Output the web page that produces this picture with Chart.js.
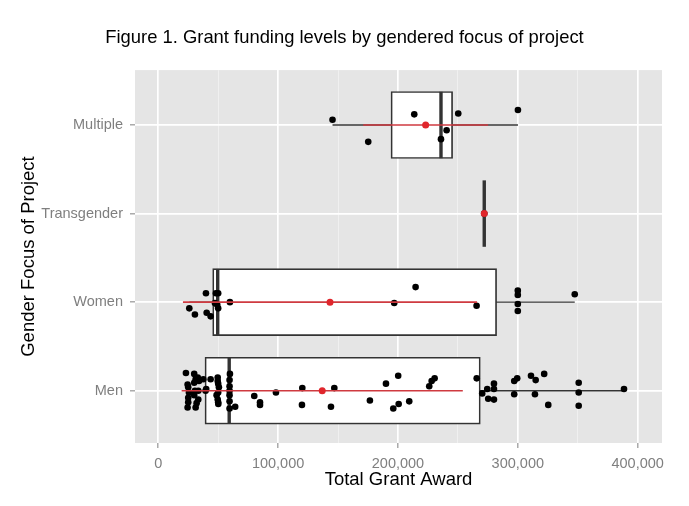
<!DOCTYPE html>
<html>
<head>
<meta charset="utf-8">
<title>Grant funding levels by gendered focus of project</title>
<script src="https://cdn.jsdelivr.net/npm/chart.js@4.4.1/dist/chart.umd.min.js"></script>
<style>
	body { margin: 0; background: #fff; overflow: hidden; }
	#wrap { width: 689px; height: 506px; }
</style>
</head>
<body>
<div id="wrap"><canvas id="myChart" width="689" height="506"></canvas></div>
<script>
// categories from the bottom of the y axis up
let categories = ["Men", "Women", "Transgender", "Multiple"];

// single grant awards (dollars) and the vertical jitter of each dot (in category units)
let menAwards = [
	23100, 30000, 24500, 31200, 34000, 37600, 25600, 30600, 33400, 25000,
	33400, 24500, 31200, 32000, 39500, 25000, 30000, 25000, 30000, 33000,
	43700, 49600, 50600, 48700, 49600, 50100, 50000, 50000, 49600, 50000,
	40000, 59800, 59500, 59500, 59500, 59500, 59500, 59500,
	64200, 80100, 84900, 84900, 98200, 120200, 119900, 144100, 146900, 176600,
	190000, 200200, 196100, 200600, 209400, 226100, 228100, 230600, 265700, 270300,
	274500, 275300, 280100, 280100, 280100, 297000, 299500, 297000, 311000, 314900,
	314300, 322000, 325400, 350800, 350800, 350800, 388600
];
let menJitter = [
	0.20, 0.19, 0.07, 0.13, 0.11, 0.13, -0.02, 0.00, 0.00, -0.08,
	-0.10, -0.19, -0.19, -0.14, 0.00, 0.04, -0.05, -0.13, 0.09, 0.15,
	0.13, 0.15, 0.04, -0.05, -0.10, -0.15, 0.08, -0.02, 0.11, -0.13,
	0.02, 0.19, -0.12, 0.05, -0.05, 0.12, -0.20, 0.00,
	-0.18, -0.06, -0.13, -0.16, -0.02, 0.03, -0.16, -0.18, 0.03, -0.11,
	0.08, 0.17, -0.20, -0.15, -0.12, 0.05, 0.11, 0.14, 0.14, -0.03,
	0.02, -0.09, 0.08, 0.02, -0.10, 0.11, 0.14, -0.04, 0.17, 0.12,
	-0.04, 0.19, -0.16, 0.09, -0.02, -0.17, 0.02
];
let womenAwards = [
	25900, 30600, 39800, 40400, 43700, 48100, 50000, 47300, 49200, 50000,
	59800, 196900, 214700, 265600, 300000, 300000, 300000, 300000, 347500
];
let womenJitter = [
	-0.07, -0.14, 0.10, -0.12, -0.16, 0.10, 0.10, -0.01, -0.03, -0.07,
	0.00, -0.01, 0.17, -0.04, 0.13, 0.08, -0.02, -0.10, 0.09
];
let transAwards = [272000];
let transJitter = [0];
let multipleAwards = [145400, 175200, 213600, 235900, 240600, 250300, 300100];
let multipleJitter = [0.06, -0.19, 0.12, -0.16, -0.06, 0.13, 0.17];

let awards = [menAwards, womenAwards, transAwards, multipleAwards];
let jitters = [menJitter, womenJitter, transJitter, multipleJitter];

// box plot statistics per category (same order as categories)
let lowerWhisker = [23100, 25900, 272000, 145400];
let quartile1 = [39000, 45400, 272000, 194200];
let medians = [59200, 49600, 272000, 235900];
let quartile3 = [268700, 282300, 272000, 245600];
let upperWhisker = [388600, 347500, 272000, 300100];
let means = [136800, 143300, 272000, 223100];
let stdDevs = [117300, 122700, null, 52100];

// x axis tick values
let xTicks = [0, 100000, 200000, 300000, 400000];
let xMinorTicks = [50000, 150000, 250000, 350000];

Chart.defaults.font.family = "'Liberation Sans', Arial, Helvetica, sans-serif";

var ctx = document.getElementById("myChart");
let greyText = "#7f7f7f";
let boxLine = "#333333";

// grey panel behind the grid, like ggplot
const panelBg = {
	id: "panelBg",
	beforeDraw(chart) {
		const a = chart.chartArea;
		const c = chart.ctx;
		c.save();
		c.fillStyle = "#e5e5e5";
		c.fillRect(a.left, a.top, a.right - a.left, a.bottom - a.top);
		c.restore();
	},
};

let datasets = [];
categories.forEach((cat, i) => {
	let y = i + 1;
	// whisker (lowest to highest), sits under the box
	datasets.push({
		type: "line",
		data: [{ x: lowerWhisker[i], y: y }, { x: upperWhisker[i], y: y }],
		borderColor: boxLine,
		borderWidth: 1.3,
		pointRadius: 0,
		order: 6,
	});
	// median bar
	datasets.push({
		type: "line",
		data: [{ x: medians[i], y: y - 0.375 }, { x: medians[i], y: y + 0.375 }],
		borderColor: boxLine,
		borderWidth: 3.4,
		pointRadius: 0,
		order: 4,
	});
	// jittered awards
	datasets.push({
		type: "scatter",
		data: awards[i].map((a, k) => ({ x: a, y: y + jitters[i][k] })),
		backgroundColor: "#000",
		borderWidth: 0,
		pointRadius: 3.3,
		order: 3,
	});
	// mean +/- one standard deviation
	if (stdDevs[i] !== null) {
		datasets.push({
			type: "line",
			data: [{ x: means[i] - stdDevs[i], y: y }, { x: means[i] + stdDevs[i], y: y }],
			borderColor: "#cf3a40",
			borderWidth: 1.6,
			pointRadius: 0,
			order: 2,
		});
	}
});
// boxes (first to third quartile)
datasets.push({
	type: "bar",
	indexAxis: "y",
	data: categories.map((c, i) => ({ x: [quartile1[i], quartile3[i]], y: i + 1 })),
	backgroundColor: "#ffffff",
	borderColor: boxLine,
	borderWidth: 1.7,
	borderSkipped: false,
	barThickness: 67,
	order: 5,
});
// means
datasets.push({
	type: "scatter",
	data: means.map((m, i) => ({ x: m, y: i + 1 })),
	backgroundColor: "#e0262c",
	borderWidth: 0,
	pointRadius: 3.5,
	order: 1,
});

let allXTicks = xTicks.concat(xMinorTicks).sort((a, b) => a - b);
let isMajor = (v) => xTicks.indexOf(v) !== -1;

var myChart = new Chart(ctx, {
	type: "scatter",
	data: { datasets: datasets },
	plugins: [panelBg],
	options: {
		responsive: false,
		animation: false,
		events: [],
		layout: { padding: 0 },
		plugins: {
			legend: { display: false },
			tooltip: { enabled: false },
			title: {
				display: true,
				text: "Figure 1. Grant funding levels by gendered focus of project",
				color: "#000",
				font: { size: 18.4, weight: "normal" },
				padding: { top: 27, bottom: 21 },
			},
		},
		scales: {
			x: {
				type: "linear",
				min: -19400,
				max: 420300,
				offset: false,
				border: { display: false },
				afterBuildTicks: (axis) => {
					axis.ticks = allXTicks.map((v) => ({ value: v }));
				},
				afterFit: (axis) => {
					axis.height = 63;
					axis.paddingLeft = 0;
					axis.paddingRight = 27;
				},
				grid: {
					offset: false,
					color: (c) => (c.tick && isMajor(c.tick.value) ? "#ffffff" : "#f2f2f2"),
					lineWidth: (c) => (c.tick && isMajor(c.tick.value) ? 1.7 : 0.8),
					tickColor: (c) => (c.tick && isMajor(c.tick.value) ? greyText : "rgba(0,0,0,0)"),
					tickWidth: 1,
					tickLength: 5,
				},
				ticks: {
					autoSkip: false,
					maxRotation: 0,
					padding: 7,
					color: greyText,
					font: { size: 14.5 },
					callback: (v) => (isMajor(v) ? v.toLocaleString("en-US") : ""),
				},
				title: {
					display: true,
					text: "Total Grant Award",
					color: "#000",
					font: { size: 18.5 },
					padding: { top: 0, bottom: 15 },
				},
			},
			y: {
				type: "linear",
				min: 0.41,
				max: 4.62,
				offset: false,
				border: { display: false },
				afterBuildTicks: (axis) => {
					axis.ticks = categories.map((c, i) => ({ value: i + 1 }));
				},
				afterFit: (axis) => {
					axis.width = 135;
					axis.paddingTop = 0;
					axis.paddingBottom = 0;
				},
				grid: {
					offset: false,
					color: "#ffffff",
					lineWidth: 1.7,
					tickColor: greyText,
					tickWidth: 1,
					tickLength: 5,
				},
				ticks: {
					padding: 7,
					color: greyText,
					font: { size: 14.5 },
					callback: (v) => categories[Math.round(v) - 1],
				},
				title: {
					display: true,
					text: "Gender Focus of Project",
					color: "#000",
					font: { size: 18.5 },
					padding: { top: 18, bottom: 0 },
				},
			},
		},
	},
});
</script>
</body>
</html>
